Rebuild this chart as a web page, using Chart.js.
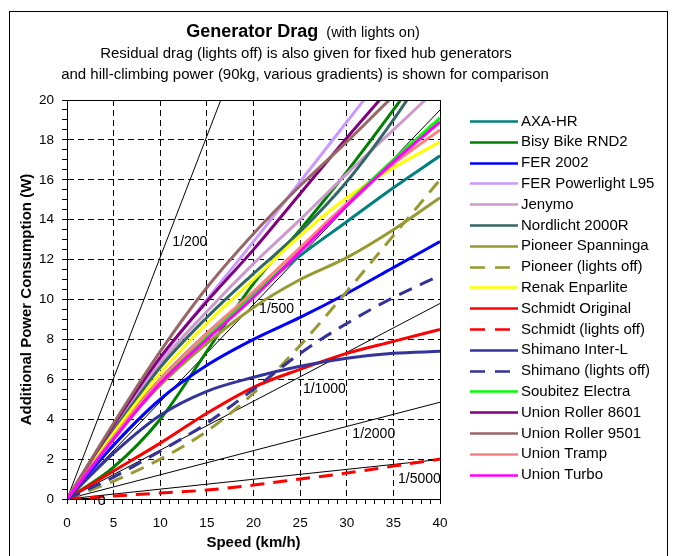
<!DOCTYPE html>
<html><head><meta charset="utf-8">
<script src="https://cdn.jsdelivr.net/npm/chart.js@4.4.0/dist/chart.umd.min.js"></script>
<style>html,body{margin:0;padding:0;background:#fff;}#wrap{position:relative;width:674px;height:556px;}</style>
</head><body><div id="wrap"><canvas id="c" width="674" height="556"></canvas></div>
<script>
// ---------- DATA ----------
const speeds = [0, 5, 10, 15, 20, 25, 30, 35, 40];

const axaHR        = [0, 3.2, 6.0, 8.3, 10.3, 12.2, 13.9, 15.6, 17.2];
const bisyBike     = [0, 1.6, 4.0, 7.4, 10.8, 13.5, 16.4, 19.5, 22.8];
const fer2002      = [0, 2.7, 5.0, 6.7, 8.0, 9.1, 10.3, 11.6, 12.9];
const ferPowerL95  = [0, 3.6, 7.0, 10.0, 12.9, 15.9, 18.9, 21.9, 25.0];
const jenymo       = [0, 3.5, 6.8, 9.4, 11.8, 14.0, 16.3, 18.5, 20.7];
const nordlicht    = [0, 3.4, 6.6, 9.1, 11.3, 13.4, 15.9, 19.0, 22.5];
const pioneer      = [0, 3.1, 5.7, 7.8, 9.6, 11.0, 12.1, 13.5, 15.1];
const pioneerOff   = [0, 0.9, 2.0, 3.4, 5.3, 7.7, 10.4, 13.2, 16.0];
const renak        = [0, 3.3, 6.3, 8.8, 11.0, 13.2, 15.1, 16.6, 17.9];
const schmidt      = [0, 1.4, 2.8, 4.3, 5.6, 6.5, 7.3, 7.9, 8.5];
const schmidtOff   = [0, 0.15, 0.3, 0.45, 0.7, 1.0, 1.3, 1.65, 2.0];
const interL       = [0, 2.3, 4.2, 5.4, 6.1, 6.65, 7.05, 7.3, 7.4];
const shimanoOff   = [0, 1.1, 2.4, 3.8, 5.5, 7.3, 8.8, 10.1, 11.2];
const soubitez     = [0, 3.1, 5.9, 8.1, 10.2, 12.4, 14.8, 17.0, 19.1];
const union8601    = [0, 3.7, 7.1, 9.9, 12.5, 15.3, 18.1, 20.8, 23.6];
const union9501    = [0, 3.8, 7.4, 10.6, 13.3, 15.7, 17.9, 20.2, 22.4];
const unionTramp   = [0, 3.1, 6.0, 8.3, 10.4, 12.6, 14.8, 16.8, 18.5];
const unionTurbo   = [0, 3.0, 5.8, 8.0, 10.1, 12.4, 14.7, 16.9, 18.9];

const seriesNames = ["AXA-HR","Bisy Bike RND2","FER 2002","FER Powerlight L95","Jenymo","Nordlicht 2000R",
  "Pioneer Spanninga","Pioneer (lights off)","Renak Enparlite","Schmidt Original","Schmidt (lights off)",
  "Shimano Inter-L","Shimano (lights off)","Soubitez Electra","Union Roller 8601","Union Roller 9501",
  "Union Tramp","Union Turbo"];
const seriesValues = [axaHR,bisyBike,fer2002,ferPowerL95,jenymo,nordlicht,pioneer,pioneerOff,renak,
  schmidt,schmidtOff,interL,shimanoOff,soubitez,union8601,union9501,unionTramp,unionTurbo];

// hill-climbing reference lines (90 kg) : power at 0 and 40 km/h
const gradSpeeds = [0, 40];
const gradNames  = ["1/200","1/500","1/1000","1/2000","1/5000"];
const grad200  = [0, 48.5];
const grad500  = [0, 19.5];
const grad1000 = [0, 9.8];
const grad2000 = [0, 4.85];
const grad5000 = [0, 1.98];
const gradValues = [grad200, grad500, grad1000, grad2000, grad5000];
const levelSpeeds = [0, 3.2];
const levelValues = [0, 0];
// label anchors in data units (speed, power)
const gradLabelX = [11.3, 20.6, 25.3, 30.6, 35.5, 3.3];
const gradLabelY = [12.9, 9.5, 5.5, 3.25, 1.0, -0.1];
const gradLabelText = ["1/200","1/500","1/1000","1/2000","1/5000","0"];

const xTickStep = 1, xMajor = 5;
const yTickStep = 0.5, yMajor = 2;

// ---------- STYLE ----------
const FONT = "'Liberation Sans', Arial, sans-serif";
const seriesColors = ["#008080","#008000","#0000FF","#CC99FF","#CC99CC","#336666","#999933","#999933",
  "#FFFF00","#FF0000","#FF0000","#333399","#333399","#00FF00","#800080","#996666","#FF8080","#FF00FF"];
const seriesDashed = [false,false,false,false,false,false,false,true,false,false,true,false,true,false,false,false,false,false];
const DASH = [14, 9];

const datasets = [];
gradValues.forEach((vals, g) => {
  datasets.push({
    label: gradNames[g],
    data: gradSpeeds.map((s, j) => ({x: s, y: vals[j]})),
    borderColor: '#000', borderWidth: 1, pointRadius: 0, fill: false, tension: 0, order: 100
  });
});
datasets.push({
  label: 'level',
  data: levelSpeeds.map((s, j) => ({x: s, y: levelValues[j]})),
  borderColor: '#000', borderWidth: 2, pointRadius: 0, fill: false, order: 99
});
seriesNames.forEach((name, i) => {
  datasets.push({
    label: name,
    data: speeds.map((s, j) => ({x: s, y: seriesValues[i][j]})),
    borderColor: seriesColors[i], backgroundColor: seriesColors[i],
    borderWidth: 3, borderDash: seriesDashed[i] ? DASH : [],
    pointRadius: 0, fill: false, cubicInterpolationMode: 'monotone',
    order: seriesNames.length - i
  });
});

const decor = {
  id: 'decor',
  beforeDraw(chart) {
    const c = chart.ctx;
    c.save(); c.fillStyle = '#fff'; c.fillRect(0, 0, chart.width, chart.height); c.restore();
  },
  afterDraw(chart) {
    const c = chart.ctx, a = chart.chartArea;
    const xs = chart.scales.x, ys = chart.scales.y;
    c.save();
    // outer frame
    c.strokeStyle = '#000'; c.lineWidth = 1;
    c.strokeRect(9.5, 11.5, 658, 560);
    // plot frame
    c.strokeRect(Math.round(a.left) + 0.5, Math.round(a.top) + 0.5, Math.round(a.right - a.left), Math.round(a.bottom - a.top));
    // titles
    c.fillStyle = '#000'; c.textBaseline = 'middle';
    const t1 = 'Generator Drag', t2 = '  (with lights on)';
    c.font = 'bold 18px ' + FONT;
    const w1 = c.measureText(t1).width;
    c.font = '14.5px ' + FONT;
    const w2 = c.measureText(t2).width;
    let x0 = 303 - (w1 + w2) / 2;
    c.font = 'bold 18px ' + FONT; c.textAlign = 'left';
    c.fillText(t1, x0, 32);
    c.font = '14.5px ' + FONT;
    c.fillText(t2, x0 + w1, 33);
    c.font = '15px ' + FONT; c.textAlign = 'center';
    c.fillText('Residual drag (lights off) is also given for fixed hub generators', 306, 54);
    c.fillText('and hill-climbing power (90kg, various gradients) is shown for comparison', 305, 75);
    // gradient labels
    c.font = '14px ' + FONT; c.textAlign = 'left';
    gradLabelText.forEach((t, k) => {
      c.fillText(t, xs.getPixelForValue(gradLabelX[k]), ys.getPixelForValue(gradLabelY[k]));
    });
    // legend
    c.font = '15px ' + FONT;
    seriesNames.forEach((name, i) => {
      const y = 121 + i * 20.8;
      c.beginPath();
      c.strokeStyle = seriesColors[i]; c.lineWidth = 2.5;
      c.setLineDash(seriesDashed[i] ? [15, 10] : []);
      c.moveTo(470, Math.round(y) + 0.5); c.lineTo(518, Math.round(y) + 0.5);
      c.stroke();
      c.setLineDash([]);
      c.fillStyle = '#000';
      c.fillText(name, 521, y + 0.5);
    });
    c.restore();
  }
};

new Chart(document.getElementById('c'), {
  type: 'line',
  data: { datasets },
  plugins: [decor],
  options: {
    responsive: false, animation: false, devicePixelRatio: 1,
    layout: { padding: { left: 0, top: 100, right: 234, bottom: 0 } },
    plugins: { legend: { display: false }, tooltip: { enabled: false }, title: { display: false } },
    scales: {
      x: {
        type: 'linear', min: 0, max: 40,
        afterFit: s => { s.height = 57; },
        ticks: { stepSize: xTickStep, autoSkip: false, maxRotation: 0, padding: 11, color: '#000',
          font: { family: FONT, size: 13.5 },
          callback: v => (Math.abs(v % xMajor) < 1e-6 ? String(v) : '') },
        grid: { color: c => (c.tick && Math.abs(c.tick.value % xMajor) < 1e-6 && c.tick.value > 0 && c.tick.value < 40) ? '#000' : 'rgba(0,0,0,0)',
          tickColor: '#000', tickLength: 5, lineWidth: 1 },
        border: { display: true, color: '#000', width: 1, dash: [6, 4] },
        title: { display: true, text: 'Speed (km/h)', color: '#000', font: { family: FONT, size: 15, weight: 'bold' }, padding: { top: 0, bottom: 4 } }
      },
      y: {
        type: 'linear', min: 0, max: 20,
        afterFit: s => { s.width = 67; },
        ticks: { stepSize: yTickStep, autoSkip: false, padding: 8, color: '#000',
          font: { family: FONT, size: 13.5 },
          callback: v => (Math.abs(v % yMajor) < 1e-6 ? String(v) : '') },
        grid: { color: c => (c.tick && Math.abs(c.tick.value % yMajor) < 1e-6 && c.tick.value > 0 && c.tick.value < 20) ? '#000' : 'rgba(0,0,0,0)',
          tickColor: '#000', tickLength: 5, lineWidth: 1 },
        border: { display: true, color: '#000', width: 1, dash: [6, 4] },
        title: { display: true, text: 'Additional Power Consumption (W)', color: '#000', font: { family: FONT, size: 15, weight: 'bold' }, padding: { top: 18, bottom: 0 } }
      }
    }
  }
});
</script></body></html>
